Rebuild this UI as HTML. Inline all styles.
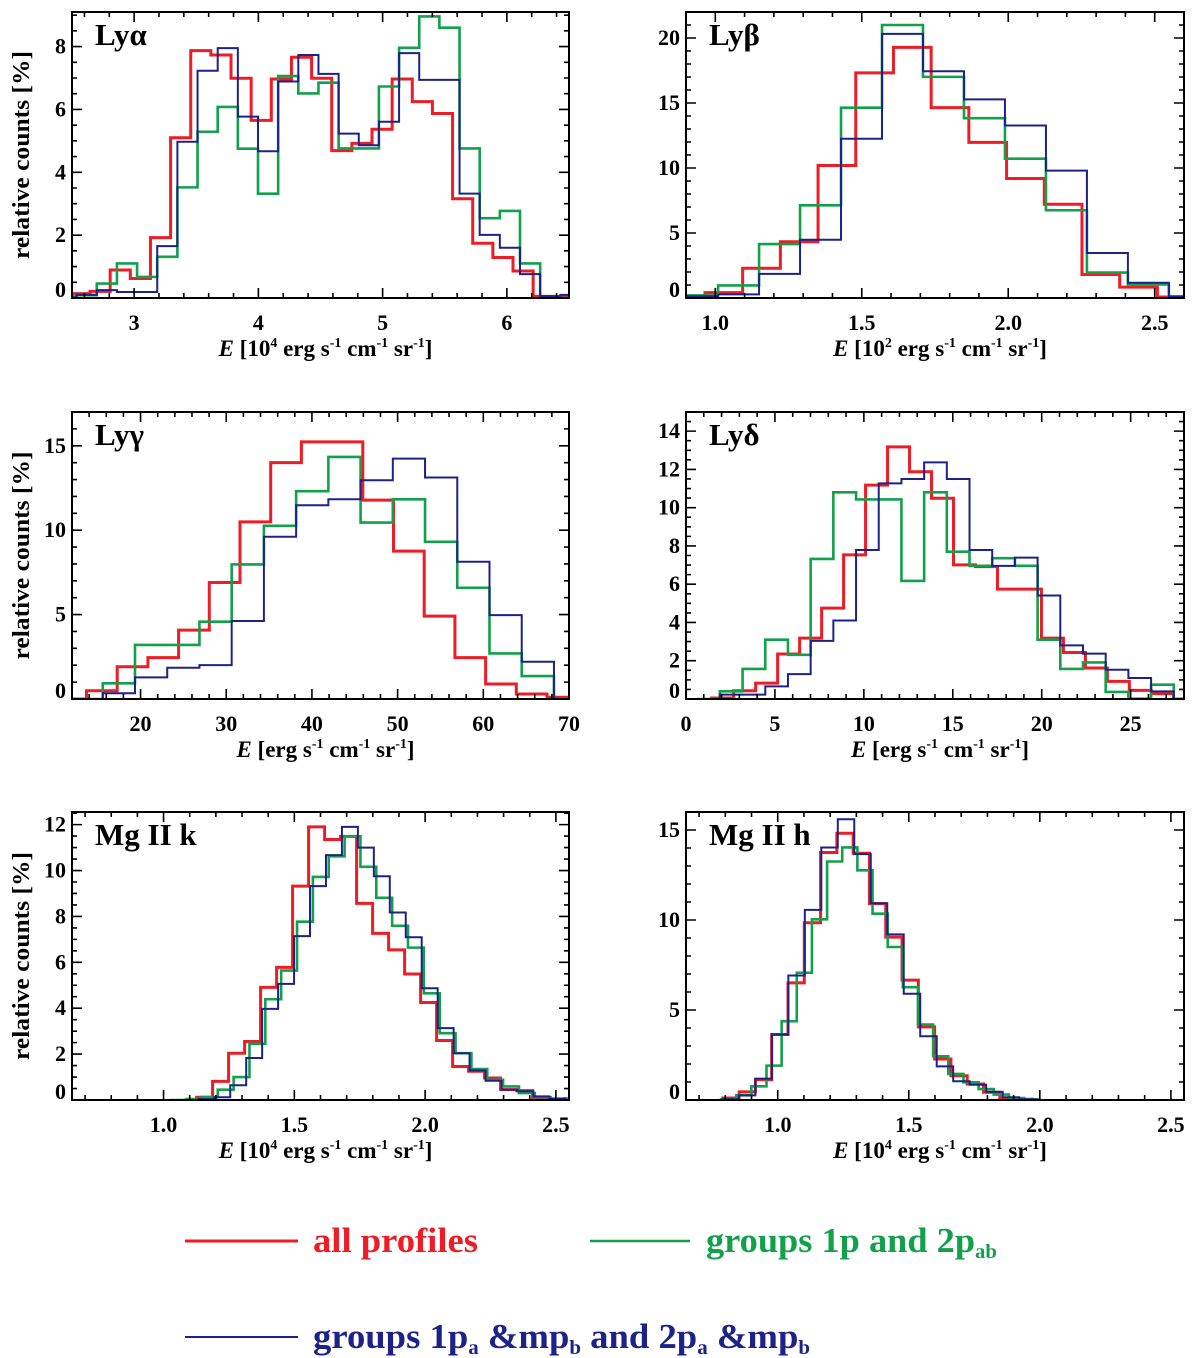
<!DOCTYPE html>
<html><head><meta charset="utf-8"><style>
html,body{margin:0;padding:0;background:#fff;}
svg{display:block;font-family:"Liberation Serif",serif;font-weight:bold;}
</style></head><body>
<svg id="fig" width="1200" height="1358" viewBox="0 0 1200 1358" xmlns="http://www.w3.org/2000/svg"></svg>
<script>
// ---- Ly alpha ----
const lyaRedStart = 2.483, lyaRedWidth = 0.1621;
const lyaRedValues = [0.14,0.21,0.89,0.62,1.92,5.10,7.87,7.73,6.99,5.65,6.97,7.66,6.99,4.69,4.92,5.37,6.97,6.25,5.87,3.16,1.74,1.29,0.86,0.05,0.03];
const lyaGreenStart = 2.375, lyaGreenWidth = 0.1622;
const lyaGreenValues = [0.05,0.09,0.46,1.10,0.67,1.31,3.52,5.29,6.08,4.75,3.32,7.06,6.51,6.85,4.76,4.76,6.73,7.96,8.96,8.60,4.76,2.54,2.77,1.10,0,0];
const lyaBlueStart = 2.375, lyaBlueWidth = 0.1622;
const lyaBlueValues = [0.02,0.10,0.25,0.19,0.19,1.65,4.97,7.23,7.95,5.77,4.67,6.89,7.73,7.13,5.23,4.86,5.61,7.79,6.94,6.94,3.32,2.01,1.60,0.76,0.06,0.10];
// ---- Ly beta ----
const lybRedStart = 0.836, lybRedWidth = 0.1287;
const lybRedValues = [0.08,0.41,2.29,4.33,10.19,17.32,19.28,14.64,11.97,9.19,7.21,1.81,0.84,0.08];
const lybGreenStart = 0.8696, lybGreenWidth = 0.1399;
const lybGreenValues = [0.2,0.97,4.15,7.13,14.64,21.0,17.01,13.83,10.72,6.75,1.96,1.04,0.08];
const lybBlueStart = 0.8696, lybBlueWidth = 0.1399;
const lybBlueValues = [0.13,0.28,1.86,4.48,12.25,20.32,17.44,15.28,13.27,9.80,3.46,1.17,0.13];
// ---- Ly gamma ----
const lygRedStart = 10.107, lygRedWidth = 3.583;
const lygRedValues = [0,0.49,1.91,2.45,4.08,6.9,10.49,14.0,15.23,15.23,11.78,8.76,4.91,2.45,0.89,0.30,0.10];
const lygGreenStart = 11.829, lygGreenWidth = 3.761;
const lygGreenValues = [0,0.93,3.2,3.2,4.58,7.97,10.26,12.31,14.34,10.45,11.83,9.31,6.59,2.70,1.36,0];
const lygBlueStart = 11.829, lygBlueWidth = 3.761;
const lygBlueValues = [0,0.34,1.28,1.85,2.01,4.62,9.61,11.48,11.83,12.96,14.24,13.12,8.13,4.97,2.21,0];
// ---- Ly delta ----
const lydRedStart = 1.444, lydRedWidth = 1.236;
const lydRedValues = [0.05,0.43,0.83,2.35,3.18,4.75,7.53,11.18,13.18,11.88,10.49,7.01,6.92,5.74,5.74,3.18,2.43,1.62,0.92,0.45,0.28,0];
const lydGreenStart = 0.629, lydGreenWidth = 1.276;
const lydGreenValues = [0,0.4,1.57,3.1,2.31,7.32,10.8,10.43,10.43,6.17,10.8,7.7,6.96,7.36,6.96,3.1,1.57,1.91,0.37,0.02,0.75,0];
const lydBlueStart = 0.629, lydBlueWidth = 1.276;
const lydBlueValues = [0,0.23,0.23,0.66,1.3,3.04,4.1,7.79,11.27,11.5,12.37,11.5,7.79,6.96,7.39,5.41,2.8,2.37,1.53,1.1,0.4,0];
// ---- Mg II k ----
const mgkRedStart = 1.1263, mgkRedWidth = 0.06117;
const mgkRedValues = [0.12,0.81,2.04,2.55,4.91,5.78,9.32,11.9,11.35,11.49,8.57,7.26,6.54,5.49,4.25,2.59,1.46,1.25,0.96,0.45,0.41,0.09,0,0.06];
const mgkGreenStart = 1.0255, mgkGreenWidth = 0.0606;
const mgkGreenValues = [0,0.04,0.13,0.45,1.0,2.45,4.39,5.64,7.77,9.72,10.62,11.49,10.16,8.81,7.59,6.64,4.65,2.91,2.04,1.35,0.88,0.59,0.3,0.12,0.06];
const mgkBlueStart = 1.1329, mgkBlueWidth = 0.061;
const mgkBlueValues = [0.04,0.12,0.64,1.83,3.97,5.06,7.14,9.32,10.67,11.9,11.0,9.75,8.17,7.09,4.87,3.13,2.04,1.29,0.84,0.45,0.38,0.16,0.06];
// ---- Mg II h ----
const mghRedStart = 0.7905, mghRedWidth = 0.06216;
const mghRedValues = [0.11,0.45,1.13,3.64,6.51,9.85,13.75,14.82,13.71,10.91,9.05,6.66,4.06,2.28,1.35,0.89,0.43,0.11,0.04];
const mghGreenStart = 0.7837, mghGreenWidth = 0.0578;
const mghGreenValues = [0.04,0.26,0.76,1.91,4.38,7.07,10.04,13.25,14.03,12.76,10.35,8.5,6.27,4.19,2.43,1.45,0.98,0.61,0.3,0.11,0.04];
const mghBlueStart = 0.7888, mghBlueWidth = 0.0629;
const mghBlueValues = [0.04,0.26,1.19,3.64,6.92,10.56,14.03,15.6,13.66,10.93,9.2,5.9,3.54,1.87,1.04,0.85,0.45,0.15,0.04];

// tick labels
const lyaXTicks = ["3","4","5","6"];
const lyaYTicks = ["0","2","4","6","8"];
const lybXTicks = ["1.0","1.5","2.0","2.5"];
const lybYTicks = ["0","5","10","15","20"];
const lygXTicks = ["20","30","40","50","60","70"];
const lygYTicks = ["0","5","10","15"];
const lydXTicks = ["0","5","10","15","20","25"];
const lydYTicks = ["0","2","4","6","8","10","12","14"];
const mgXTicks = ["1.0","1.5","2.0","2.5"];
const mgkYTicks = ["0","2","4","6","8","10","12"];
const mghYTicks = ["0","5","10","15"];

const NS="http://www.w3.org/2000/svg";
const svg=document.getElementById('fig');
function mk(tag,attrs,parent){const e=document.createElementNS(NS,tag);for(const k in attrs)e.setAttribute(k,attrs[k]);(parent||svg).appendChild(e);return e;}
const RED="#ee1c25", GREEN="#12a04a", BLUE="#1d2288";

const panels=[
 {id:'lya',label:'Lyα',box:[72,12,569,298],xr:[2.5,6.5],yr:[0,9.1],xmaj:1,xmin:0.2,ymaj:2,ymin:0.5,xt:lyaXTicks,yt:lyaYTicks,exp:'4',ytitle:true,
  s:[[lyaRedStart,lyaRedWidth,lyaRedValues],[lyaGreenStart,lyaGreenWidth,lyaGreenValues],[lyaBlueStart,lyaBlueWidth,lyaBlueValues]]},
 {id:'lyb',label:'Lyβ',box:[686,12,1184,298],xr:[0.9,2.6],yr:[0,22],xmaj:0.5,xmin:0.1,ymaj:5,ymin:1,xt:lybXTicks,yt:lybYTicks,exp:'2',ytitle:false,
  s:[[lybRedStart,lybRedWidth,lybRedValues],[lybGreenStart,lybGreenWidth,lybGreenValues],[lybBlueStart,lybBlueWidth,lybBlueValues]]},
 {id:'lyg',label:'Lyγ',box:[72,412,569,699],xr:[12,70],yr:[0,17],xmaj:10,xmin:2,ymaj:5,ymin:1,xt:lygXTicks,yt:lygYTicks,exp:null,ytitle:true,
  s:[[lygRedStart,lygRedWidth,lygRedValues],[lygGreenStart,lygGreenWidth,lygGreenValues],[lygBlueStart,lygBlueWidth,lygBlueValues]]},
 {id:'lyd',label:'Lyδ',box:[686,412,1184,699],xr:[0,28],yr:[0,15],xmaj:5,xmin:1,ymaj:2,ymin:0.5,xt:lydXTicks,yt:lydYTicks,exp:null,ytitle:false,
  s:[[lydRedStart,lydRedWidth,lydRedValues],[lydGreenStart,lydGreenWidth,lydGreenValues],[lydBlueStart,lydBlueWidth,lydBlueValues]]},
 {id:'mgk',label:'Mg II k',box:[72,812,569,1100],xr:[0.65,2.55],yr:[0,12.55],xmaj:0.5,xmin:0.1,ymaj:2,ymin:0.5,xt:mgXTicks,yt:mgkYTicks,exp:'4',ytitle:true,
  s:[[mgkRedStart,mgkRedWidth,mgkRedValues],[mgkGreenStart,mgkGreenWidth,mgkGreenValues],[mgkBlueStart,mgkBlueWidth,mgkBlueValues]]},
 {id:'mgh',label:'Mg II h',box:[686,812,1184,1100],xr:[0.65,2.55],yr:[0,16],xmaj:0.5,xmin:0.1,ymaj:5,ymin:1,xt:mgXTicks,yt:mghYTicks,exp:'4',ytitle:false,
  s:[[mghRedStart,mghRedWidth,mghRedValues],[mghGreenStart,mghGreenWidth,mghGreenValues],[mghBlueStart,mghBlueWidth,mghBlueValues]]}
];
const colors=[RED,GREEN,BLUE], widths=[3,2.6,2], names=['all-profiles','groups-1p-2pab','groups-1pa-mpb'];

panels.forEach((p,pi)=>{
  const [L,T,R,B]=p.box;
  const g=mk('g',{});
  
  
  const X=v=>L+(v-p.xr[0])/(p.xr[1]-p.xr[0])*(R-L);
  const Y=v=>B-(v-p.yr[0])/(p.yr[1]-p.yr[0])*(B-T);
  const cp=mk('clipPath',{id:'clip'+pi},g);
  mk('rect',{x:L,y:T,width:R-L,height:B-T},cp);
  p.s.forEach((s,si)=>{
    const [start,w,vals]=s;
    let d='M'+X(start).toFixed(2)+','+Y(0).toFixed(2);
    vals.forEach((v,i)=>{
      const x0=X(start+i*w), x1=X(start+(i+1)*w), y=Y(v);
      d+=' L'+x0.toFixed(2)+','+y.toFixed(2)+' L'+x1.toFixed(2)+','+y.toFixed(2);
    });
    d+=' L'+X(start+vals.length*w).toFixed(2)+','+Y(0).toFixed(2);
    const path=mk('path',{d:d,fill:'none',stroke:colors[si],'stroke-width':widths[si],'clip-path':'url(#clip'+pi+')'},g);
    
    
  });
  const fr=mk('rect',{x:L,y:T,width:R-L,height:B-T,fill:'none',stroke:'#000','stroke-width':2},g);
  
  
  let td='';
  const eps=1e-6;
  for(let v=Math.ceil((p.xr[0]-eps)/p.xmin)*p.xmin; v<=p.xr[1]+eps; v+=p.xmin){
    const isMaj=Math.abs(v/p.xmaj-Math.round(v/p.xmaj))<1e-4;
    const len=isMaj?10:5, x=X(v);
    td+=`M${x},${B}v${-len}M${x},${T}v${len}`;
  }
  for(let v=Math.ceil((p.yr[0]-eps)/p.ymin)*p.ymin; v<=p.yr[1]+eps; v+=p.ymin){
    const isMaj=Math.abs(v/p.ymaj-Math.round(v/p.ymaj))<1e-4;
    const len=isMaj?10:5, y=Y(v);
    td+=`M${L},${y}h${len}M${R},${y}h${-len}`;
  }
  const tk=mk('path',{d:td,stroke:'#000','stroke-width':1.6,fill:'none'},g);
  
  
  p.xt.forEach(t=>{
    const v=parseFloat(t);
    const e=mk('text',{x:X(v),y:B+32,'text-anchor':'middle','font-size':22},g);
    e.textContent=t;
    
    
  });
  p.yt.forEach(t=>{
    const v=parseFloat(t);
    const yy = v===0 ? B-1 : Y(v)+7;
    const e=mk('text',{x:L-6,y:yy,'text-anchor':'end','font-size':22},g);
    e.textContent=t;
    
    
  });
  const lb=mk('text',{x:L+23,y:T+33,'font-size':31},g);
  lb.textContent=p.label;
  
  
  const xt=mk('text',{x:(L+R)/2+5,y:B+58,'text-anchor':'middle','font-size':23},g);
  
  
  const parts=[['E',{'font-style':'italic'}],[' [',{}]];
  if(p.exp){parts.push(['10',{}]);parts.push([p.exp,{dy:-9,'font-size':14}]);parts.push([' erg',{dy:9}]);}
  else parts.push(['erg',{}]);
  parts.push([' s',{}]);parts.push(['-1',{dy:-9,'font-size':14}]);
  parts.push([' cm',{dy:9}]);parts.push(['-1',{dy:-9,'font-size':14}]);
  parts.push([' sr',{dy:9}]);parts.push(['-1',{dy:-9,'font-size':14}]);
  parts.push([']',{dy:9}]);
  parts.forEach(([txt,a])=>{const ts=mk('tspan',a,xt);ts.textContent=txt;});
  if(p.ytitle){
    const cy=(T+B)/2;
    const yt=mk('text',{x:0,y:0,'text-anchor':'middle','font-size':24,textLength:208,lengthAdjust:'spacingAndGlyphs',transform:`translate(29,${cy}) rotate(-90)`},g);
    yt.textContent='relative counts [%]';
    
    
  }
});

const lg=mk('g',{});


function legendLine(x1,x2,y,c,w,name){
  const l=mk('line',{x1:x1,x2:x2,y1:y,y2:y,stroke:c,'stroke-width':w},lg);
  
  
}
legendLine(185,298,1241,RED,3,'legend-red-line');
legendLine(590,690,1241,GREEN,2.6,'legend-green-line');
legendLine(185,298,1337,BLUE,2,'legend-blue-line');
function legendText(x,y,c,len,parts,name){
  const t=mk('text',{x:x,y:y,fill:c,'font-size':35,textLength:len,lengthAdjust:'spacingAndGlyphs','xml:space':'preserve'},lg);
  
  
  parts.forEach(([txt,a])=>{const ts=mk('tspan',a,t);ts.textContent=txt;});
}
legendText(313,1252,RED,165,[['all profiles',{}]],'legend-all-profiles');
legendText(706,1252,GREEN,291,[['groups 1p and 2p',{}],['ab',{'font-size':20,dy:6}]],'legend-groups-1p-2pab');
legendText(313,1348,BLUE,497,[['groups 1p',{}],['a',{'font-size':20,dy:6}],[' &mp',{dy:-6}],['b',{'font-size':20,dy:6}],['   and   2p',{dy:-6}],['a',{'font-size':20,dy:6}],[' &mp',{dy:-6}],['b',{'font-size':20,dy:6}]],'legend-groups-1pa-mpb');
</script>
</body></html>
